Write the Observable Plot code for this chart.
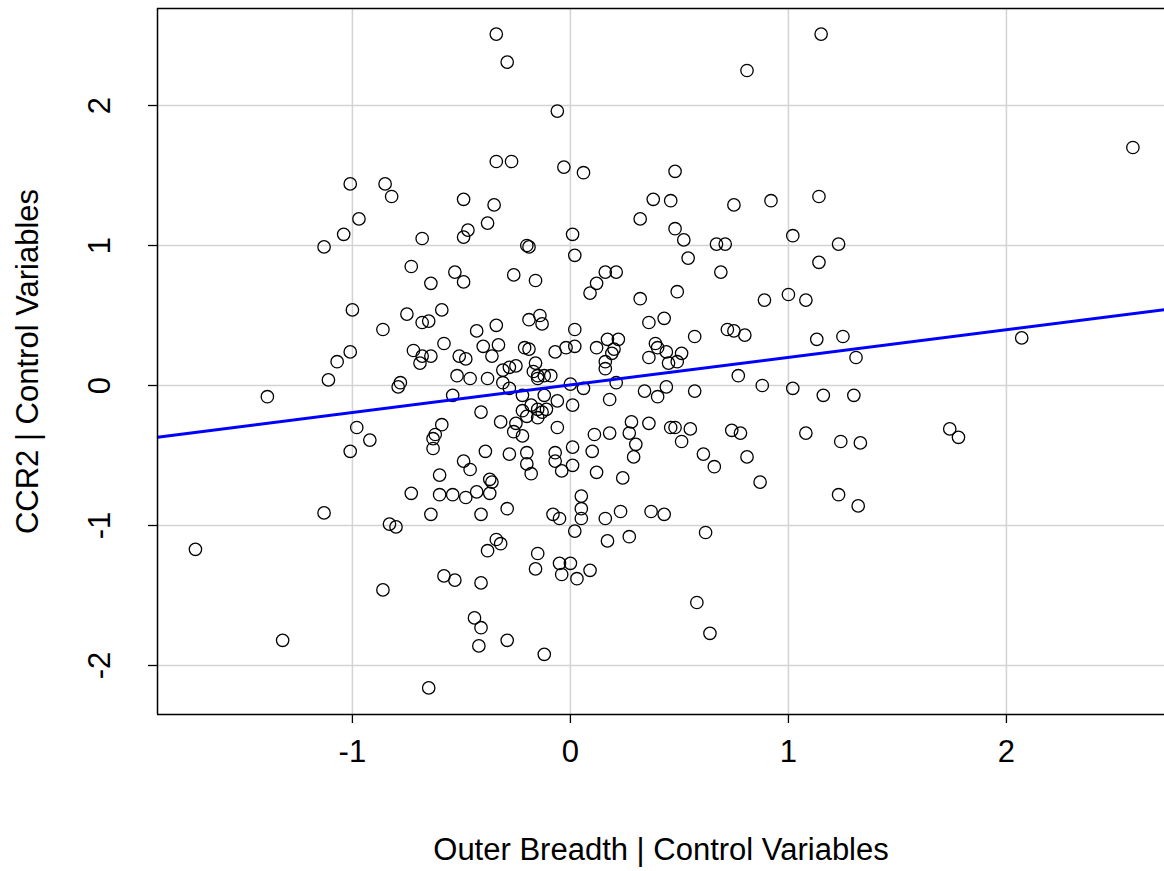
<!DOCTYPE html>
<html>
<head>
<meta charset="utf-8">
<script src="https://cdn.jsdelivr.net/npm/d3@7"></script>
<script src="https://cdn.jsdelivr.net/npm/@observablehq/plot@0.6"></script>
<style>
  html, body { margin: 0; padding: 0; background: #fff; }
</style>
</head>
<body>
<div id="chart"></div>
<script>
const outerBreadth = [
  -1.01,-0.85,-0.82,-0.97,-1.04,-1.13,
  -0.34,-0.29,-0.06,-0.34,-0.27,-0.03,0.06,-0.49,-0.35,-0.38,-0.47,-0.49,-0.68,0.01,-0.20,-0.19,
  0.81,0.48,0.38,0.46,0.75,0.92,0.32,0.48,0.52,0.67,0.71,
  1.15,2.58,1.14,1.02,1.23,
  -1.00,-0.86,-1.01,-1.07,-1.11,-1.39,-0.79,-0.78,-0.98,-0.92,-1.01,
  0.02,-0.73,-0.53,-0.49,-0.64,-0.26,-0.16,-0.75,-0.59,-0.68,-0.65,-0.34,-0.19,-0.14,-0.13,-0.43,0.02,
  -0.58,-0.72,-0.68,-0.64,-0.69,-0.40,-0.33,-0.36,-0.51,-0.48,-0.21,-0.19,-0.07,-0.02,0.02,-0.16,
  -0.31,-0.28,-0.25,-0.17,-0.15,-0.12,-0.09,-0.52,-0.46,-0.38,-0.31,-0.15,0.00,-0.54,-0.28,-0.22,
  -0.12,-0.06,0.01,-0.41,-0.22,-0.18,-0.15,-0.13,-0.11,-0.20,-0.15,-0.32,-0.25,-0.26,-0.22,-0.06,
  -0.59,-0.62,-0.63,-0.63,-0.39,-0.28,-0.20,-0.20,-0.18,-0.07,-0.07,-0.04,0.01,0.01,-0.49,-0.46,-0.60,-0.37,
  -0.73,-0.60,-0.54,-0.48,-0.43,-0.37,-0.36,-0.64,-0.41,-0.29,-0.08,-0.05,0.02,-0.34,-0.32,-0.38,
  -0.15,-0.16,-0.05,0.00,-0.04,0.03,-0.58,-0.53,-0.41,-0.44,-0.41,-0.42,-0.29,-0.12,-0.65,
  -1.13,-0.83,-0.80,-1.72,-0.86,-1.32,
  0.54,0.16,0.21,0.12,0.09,0.69,0.32,0.49,0.89,0.36,0.43,0.72,0.75,0.80,0.57,0.12,0.17,0.22,0.20,0.19,
  0.16,0.16,0.39,0.40,0.44,0.36,0.51,0.49,0.45,0.77,0.88,0.06,0.21,0.18,0.34,0.40,0.44,0.57,0.28,0.36,
  0.11,0.18,0.27,0.46,0.48,0.55,0.74,0.78,0.30,0.29,0.51,0.10,0.61,0.66,0.81,0.12,0.24,0.87,
  0.05,0.05,0.05,0.16,0.23,0.37,0.43,0.17,0.27,0.62,0.09,0.58,0.64,
  1.14,1.00,1.08,1.13,1.25,1.31,2.07,1.02,1.16,1.30,1.08,1.24,1.33,1.74,1.78,
  1.23,1.32
];
const ccr2 = [
  1.44,1.44,1.35,1.19,1.08,0.99,
  2.51,2.31,1.96,1.60,1.60,1.56,1.52,1.33,1.29,1.16,1.11,1.06,1.05,1.08,1.00,0.99,
  2.25,1.53,1.33,1.32,1.29,1.32,1.19,1.12,1.04,1.01,1.01,
  2.51,1.70,1.35,1.07,1.01,
  0.54,0.40,0.24,0.17,0.04,-0.08,-0.01,0.02,-0.30,-0.39,-0.47,
  0.93,0.85,0.81,0.74,0.73,0.79,0.75,0.51,0.54,0.45,0.46,0.43,0.47,0.50,0.44,0.39,0.40,
  0.30,0.25,0.21,0.21,0.16,0.28,0.29,0.21,0.21,0.19,0.27,0.26,0.24,0.27,0.28,0.16,
  0.11,0.13,0.14,0.10,0.07,0.07,0.07,0.07,0.05,0.05,0.02,0.05,0.01,-0.07,-0.02,-0.07,
  -0.07,-0.11,-0.14,-0.19,-0.18,-0.14,-0.17,-0.19,-0.17,-0.22,-0.23,-0.26,-0.27,-0.33,-0.36,-0.30,
  -0.28,-0.35,-0.38,-0.45,-0.47,-0.49,-0.48,-0.56,-0.63,-0.48,-0.54,-0.61,-0.44,-0.57,-0.54,-0.60,-0.64,-0.67,
  -0.77,-0.78,-0.78,-0.80,-0.76,-0.77,-0.69,-0.92,-0.92,-0.88,-0.92,-0.95,-1.04,-1.10,-1.13,-1.18,
  -1.20,-1.31,-1.27,-1.27,-1.35,-1.38,-1.36,-1.39,-1.41,-1.66,-1.73,-1.86,-1.82,-1.92,-2.16,
  -0.91,-0.99,-1.01,-1.17,-1.46,-1.82,
  0.91,0.81,0.81,0.73,0.66,0.81,0.62,0.67,0.61,0.45,0.48,0.40,0.39,0.36,0.35,0.27,0.33,0.33,0.26,0.23,
  0.17,0.12,0.30,0.27,0.24,0.20,0.23,0.17,0.16,0.07,0.00,-0.02,0.02,-0.10,-0.04,-0.08,-0.01,-0.04,-0.26,-0.27,
  -0.35,-0.34,-0.34,-0.30,-0.30,-0.31,-0.32,-0.34,-0.42,-0.51,-0.40,-0.47,-0.49,-0.58,-0.51,-0.62,-0.66,-0.69,
  -0.79,-0.88,-0.95,-0.95,-0.90,-0.90,-0.92,-1.11,-1.08,-1.05,-1.32,-1.55,-1.77,
  0.88,0.65,0.61,0.33,0.35,0.20,0.34,-0.02,-0.07,-0.07,-0.34,-0.40,-0.41,-0.31,-0.37,
  -0.78,-0.86
];
const xTicks = [-1, 0, 1, 2];
const yTicks = [-2, -1, 0, 1, 2];
const xTitle = ["Outer Breadth | Control Variables"];
const yTitle = ["CCR2 | Control Variables"];
const fitCoef = { intercept: 0.004, slope: 0.197 };

const xDomain = [-1.894, 2.725];
const yDomain = [-2.35, 2.693];

const points = outerBreadth.map((x, i) => ({ x, y: ccr2[i] }));
const fitLine = xDomain.map(x => ({ x, y: fitCoef.intercept + fitCoef.slope * x }));

const FONT = "'Liberation Sans', Arial, Helvetica, sans-serif";
const FS = 31;

const chart = Plot.plot({
  width: 1164,
  height: 871,
  marginLeft: 157,
  marginRight: 0,
  marginTop: 8,
  marginBottom: 157,
  style: { fontFamily: FONT, fontSize: FS + "px", background: "#fff", color: "#000" },
  x: { domain: xDomain, label: null },
  y: { domain: yDomain, label: null },
  marks: [
    Plot.gridX(xTicks, { stroke: "#d3d3d3", strokeOpacity: 1, strokeWidth: 1.5 }),
    Plot.gridY(yTicks, { stroke: "#d3d3d3", strokeOpacity: 1, strokeWidth: 1.5 }),
    Plot.dot(points, { x: "x", y: "y", r: 6.2, stroke: "#000", strokeWidth: 1.3, fill: "none" }),
    Plot.line(fitLine, { x: "x", y: "y", stroke: "#0000ff", strokeWidth: 3, clip: true }),
    Plot.ruleX([xDomain[0]], { stroke: "#000", strokeWidth: 1.5 }),
    Plot.ruleY([yDomain[0], yDomain[1]], { stroke: "#000", strokeWidth: 1.5 }),
    Plot.axisX({ ticks: xTicks, tickSize: 9, tickFormat: () => "", label: null, stroke: "#000", strokeWidth: 1.3 }),
    Plot.axisY({ ticks: yTicks, tickSize: 9, tickFormat: () => "", label: null, stroke: "#000", strokeWidth: 1.3 }),
    Plot.text(xTicks, { x: d => d, frameAnchor: "bottom", dy: 38, text: d => String(d), lineAnchor: "middle", textAnchor: "middle", fontSize: FS, fill: "#000" }),
    Plot.text(yTicks, { y: d => d, frameAnchor: "left", dx: -57, rotate: -90, text: d => String(d), lineAnchor: "middle", textAnchor: "middle", fontSize: FS, fill: "#000" }),
    Plot.text(xTitle, { frameAnchor: "bottom", dy: 136, text: d => d, lineAnchor: "middle", textAnchor: "middle", fontSize: FS, fill: "#000" }),
    Plot.text(yTitle, { frameAnchor: "left", dx: -129, rotate: -90, text: d => d, lineAnchor: "middle", textAnchor: "middle", fontSize: FS, fill: "#000" })
  ]
});
document.getElementById("chart").appendChild(chart);
</script>
</body>
</html>
